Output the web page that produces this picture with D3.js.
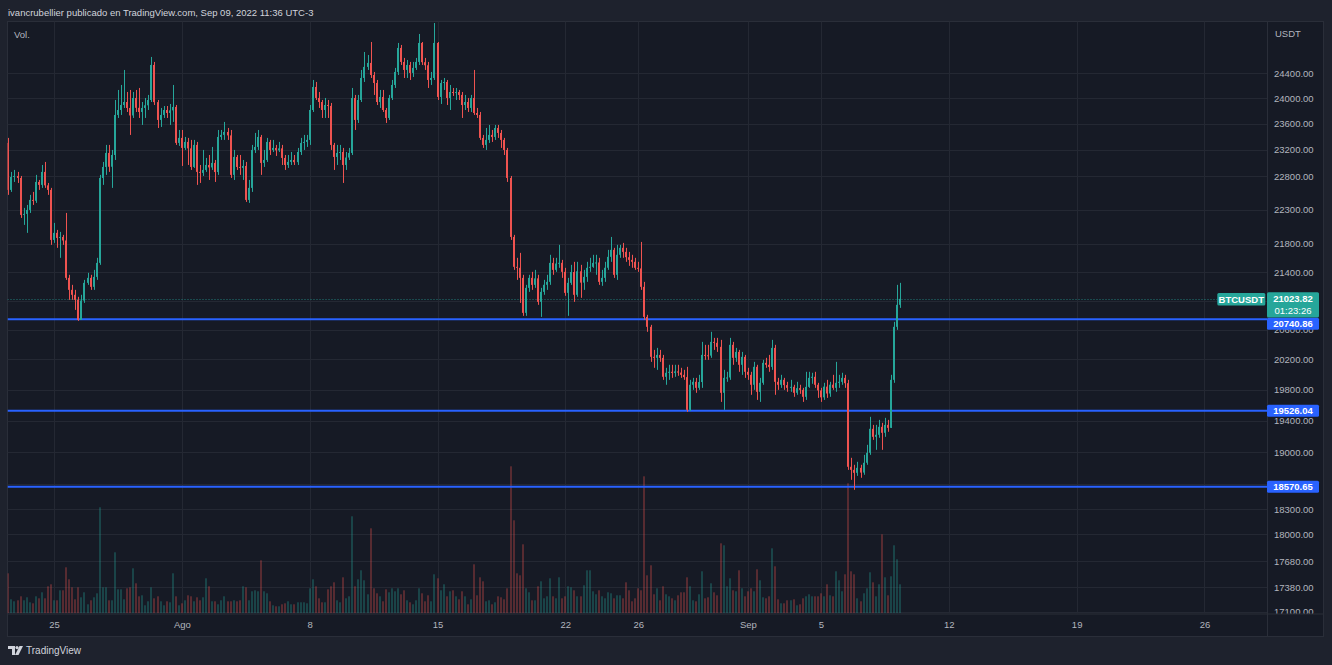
<!DOCTYPE html>
<html><head><meta charset="utf-8">
<script src="https://cdn.jsdelivr.net/npm/d3@7"></script>
<style>html,body{margin:0;padding:0;background:#1e222d;overflow:hidden}</style>
</head><body><svg id="c" width="1332" height="665"></svg>
<script>
// ---------- DATA (BTCUSDT, 4h candles) ----------
const firstBarTime = "2022-07-22T16:00:00Z";
const barHours = 4;
const opens = [
23304,22592,22786,22801,22771,22222,22237,22295,22443,22430,22711,22667,22862,22660,22592,21858,21960,21887,21901,21850,
21317,21149,21080,21010,20734,21000,21247,21317,21191,21331,21529,22771,22937,23150,22940,23119,23738,23816,23895,23942,
23848,23730,24006,23850,23785,23848,23890,23974,24535,23940,23660,23738,23816,23769,23810,23864,23304,23381,23227,23319,
23220,22937,23273,22862,22847,22892,22967,22930,22998,22860,23396,23427,23473,23420,22817,23089,22937,22922,22952,22443,
22622,23196,23242,23396,22998,23043,23319,23196,23227,23190,23220,23074,22967,23013,23043,23010,23165,23304,23319,23350,
23816,24181,24006,23942,23816,23895,23880,23273,23089,23150,23165,22967,23080,23150,24006,23660,23974,24325,24503,24568,
24373,24245,23942,24022,23816,23691,24006,24213,24422,24812,24584,24454,24535,24406,24487,24584,24894,24580,24530,24293,
24325,24894,24022,24245,24261,24006,24101,24085,24100,24054,23895,23942,23848,24006,23769,23738,23381,23273,23350,23427,
23396,23535,23458,23350,23196,22771,21901,21473,21459,21317,20830,21177,21317,21219,21310,20982,21121,21220,21261,21529,
21430,21520,21530,21402,21107,21247,21400,21080,21410,21250,21331,21459,21473,21529,21535,21261,21317,21460,21615,21715,
21360,21644,21744,21686,21610,21572,21544,21459,21450,21191,20775,20639,20234,20221,20260,20220,19969,20022,20035,20020,
20040,20025,19995,19965,19538,19864,19903,19824,19900,20260,20255,20250,20435,20422,20368,19759,19955,19960,20395,20221,
20300,20128,20234,20035,19995,19864,20101,19772,19890,20154,20128,20100,20354,19903,19864,19929,19860,19824,19837,19759,
19820,19798,19707,19837,19955,19969,19864,19790,19700,19840,19750,19865,19824,19890,19903,19955,19885,18817,18779,18742,
18804,18745,18867,18992,19295,19193,19219,19320,19244,19345,19307,19929,20639,20941];
const highs = [
23381,22862,22892,22862,22801,22325,22369,22518,22562,22817,22741,22967,23013,22696,22622,22105,22003,21974,21931,22251,
21360,21219,21149,21052,21080,21289,21388,21360,21430,21601,22817,23013,23273,23273,23196,23974,24133,24213,24454,24101,
24133,24101,24133,24165,23942,24006,24054,24665,24584,23974,23848,23879,23879,23911,24213,23895,23504,23504,23396,23381,
23350,23350,23319,22967,23196,23074,23119,23242,23043,23504,23504,23629,23535,23504,23196,23119,23119,23043,23013,22741,
23273,23458,23504,23427,23196,23381,23350,23350,23273,23319,23273,23119,23119,23165,23119,23227,23381,23427,23427,23895,
24293,24261,24101,23974,24006,23974,23927,23304,23273,23273,23227,23165,23227,24165,24054,24054,24454,24746,24697,24910,
24422,24293,24133,24133,23848,24054,24293,24487,24894,24861,24649,24616,24584,24584,24649,25042,24910,24649,24584,24422,
25224,24910,24293,24325,24293,24213,24165,24165,24133,24101,24054,24006,24054,24454,23848,23785,23427,23535,23582,23504,
23582,23582,23504,23381,23227,22801,21931,21601,21672,21360,21219,21360,21402,21430,21360,21177,21289,21360,21644,21601,
21601,21787,21572,21459,21317,21501,21544,21544,21501,21430,21544,21601,21644,21644,21601,21430,21544,21715,21901,21744,
21787,21787,21815,21744,21686,21644,21601,21544,21829,21261,20803,20666,20327,20354,20327,20260,20088,20128,20128,20128,
20128,20088,20061,20101,19929,19955,19955,19995,20435,20395,20395,20571,20489,20489,20462,20061,20035,20489,20435,20354,
20327,20300,20260,20088,20035,20167,20128,19955,20194,20221,20260,20462,20395,19955,19995,19955,19903,19929,19864,19903,
19864,19824,20035,20035,20022,20035,19890,19824,19890,19929,19903,19995,20167,19995,20022,19995,19929,18929,18842,18879,
18842,18966,19092,19448,19345,19345,19409,19371,19435,19409,19995,20707,21219,21247];
const lows = [
22518,22562,22711,22696,22178,22076,21960,22251,22369,22399,22592,22622,22622,22518,21787,21815,21744,21601,21787,21289,
21010,21010,20871,20720,20734,20968,21219,21149,21149,21289,21501,22667,22817,22862,22622,23043,23691,23738,23848,23785,
23427,23691,23785,23691,23582,23691,23816,23942,23895,23535,23551,23691,23691,23582,23629,23273,23258,22952,23196,22967,
22892,22922,22667,22696,22801,22862,22741,22892,22711,22817,23350,23350,23350,22771,22741,22892,22817,22741,22413,22399,
22562,23150,23196,22817,22937,23013,23119,23165,23104,23165,22967,22892,22922,22967,22967,22967,23119,23196,23242,23273,
23785,23974,23848,23691,23691,23691,23196,22892,22967,23043,22696,22892,23043,23119,23504,23613,23942,24261,24454,24325,
24054,23895,23848,23785,23613,23660,23974,24165,24373,24535,24325,24325,24293,24341,24454,24535,24535,24454,24165,24213,
24293,23974,23911,24133,23895,23816,24038,23974,23974,23691,23816,23785,23785,23738,23691,23350,23227,23196,23304,23319,
23350,23381,23227,23119,22711,21858,21430,21289,20968,20789,20789,21121,21149,21177,20941,20775,21080,21149,21219,21360,
21402,21459,21317,21066,20789,21219,20982,21052,21038,21149,21261,21402,21459,21360,21219,21205,21261,21430,21544,21317,
21289,21601,21601,21544,21487,21459,21430,21402,21149,20734,20571,20167,20088,20061,20167,19929,19864,19929,19955,19969,
19982,19955,19929,19512,19525,19798,19759,19798,19824,20194,20194,20221,20327,20300,19641,19538,19903,19929,20128,20167,
20035,19995,19955,19929,19733,19798,19667,19641,19864,20088,20035,20061,19733,19798,19824,19798,19772,19772,19707,19733,
19746,19641,19667,19824,19877,19824,19693,19641,19667,19693,19707,19798,19772,19824,19864,19824,18779,18656,18533,18705,
18681,18718,18842,18966,19155,19029,19181,19029,19193,19257,19307,19890,20598,20899];
const closes = [
22592,22786,22801,22771,22222,22237,22295,22443,22430,22711,22667,22862,22660,22592,21858,21960,21887,21901,21850,21317,
21149,21080,21010,20734,21000,21247,21317,21191,21331,21529,22771,22937,23150,22940,23119,23738,23816,23895,23942,23848,
23730,24006,23850,23785,23848,23890,23974,24535,23940,23660,23738,23816,23769,23810,23864,23304,23381,23227,23319,23220,
22937,23273,22862,22847,22892,22967,22930,22998,22860,23396,23427,23473,23420,22817,23089,22937,22922,22952,22443,22622,
23196,23242,23396,22998,23043,23319,23196,23227,23190,23220,23074,22967,23013,23043,23010,23165,23304,23319,23350,23816,
24181,24006,23942,23816,23895,23880,23273,23089,23150,23165,22967,23080,23150,24006,23660,23974,24325,24503,24568,24373,
24245,23942,24022,23816,23691,24006,24213,24422,24812,24584,24454,24535,24406,24487,24584,24894,24580,24530,24293,24325,
24894,24022,24245,24261,24006,24101,24085,24100,24054,23895,23942,23848,24006,23769,23738,23381,23273,23350,23427,23396,
23535,23458,23350,23196,22771,21901,21473,21459,21317,20830,21177,21317,21219,21310,20982,21121,21220,21261,21529,21430,
21520,21530,21402,21107,21247,21400,21080,21410,21250,21331,21459,21473,21529,21535,21261,21317,21460,21615,21715,21360,
21644,21744,21686,21610,21572,21544,21459,21450,21191,20775,20639,20234,20221,20260,20220,19969,20022,20035,20020,20040,
20025,19995,19965,19538,19864,19903,19824,19900,20260,20255,20250,20435,20422,20368,19759,19955,19960,20395,20221,20300,
20128,20234,20035,19995,19864,20101,19772,19890,20154,20128,20100,20354,19903,19864,19929,19860,19824,19837,19759,19820,
19798,19707,19837,19955,19969,19864,19790,19700,19840,19750,19865,19824,19890,19903,19955,19885,18817,18779,18742,18804,
18745,18867,18992,19295,19193,19219,19320,19244,19345,19307,19929,20639,20941,21023.82];
// volume, thousands of BTC
const volumes = [
40,14,12,13,17,13,16,11,10,17,15,21,15,27,29,13,13,23,23,46,
34,26,14,26,16,21,9,13,16,20,106,26,26,13,13,61,24,24,14,25,
26,45,30,17,18,8,12,26,15,17,12,8,12,11,40,17,8,10,13,18,
17,12,16,13,16,35,27,12,12,9,13,17,12,12,13,12,13,27,26,13,
22,23,22,53,22,20,12,8,7,7,9,10,12,9,9,11,11,11,10,25,
34,27,15,11,11,24,27,31,13,11,36,15,17,97,27,34,43,33,19,85,
25,20,17,12,24,21,25,22,25,19,23,13,11,9,13,25,20,12,18,12,
39,35,23,29,17,22,23,17,14,22,17,9,14,49,18,36,32,12,13,9,
11,17,16,14,25,147,93,40,38,69,25,21,13,13,27,32,15,17,35,17,
15,36,15,17,27,26,23,17,17,28,43,43,22,19,23,17,15,21,20,15,
18,18,15,31,23,12,15,25,23,137,38,48,19,25,13,27,19,17,15,13,
18,21,21,36,27,13,12,19,42,15,16,30,21,18,70,68,27,35,23,22,
43,25,17,22,25,22,44,33,16,15,17,65,47,14,10,10,13,13,14,8,
9,15,17,19,17,17,17,20,17,29,18,17,42,33,22,39,130,42,39,15,
12,20,25,41,31,17,29,79,36,18,37,68,54,29];
const priceTicks = [24400,24000,23600,23200,22800,22300,21800,21400,21000,20600,20200,19800,19400,19000,18600,18300,18000,17680,17380,17100];
const timeTickDates = ["2022-07-25","2022-08-01","2022-08-08","2022-08-15","2022-08-22","2022-08-26","2022-09-01","2022-09-05","2022-09-12","2022-09-19","2022-09-26"];
const timeTickLabels = ["25","Ago","8","15","22","26","Sep","5","12","19","26"];
const levelPrices = [20740.86, 19526.04, 18570.65];
const lastPrice = 21023.82;
const symbolName = "BTCUSDT";
const countdown = "01:23:26";
const headerText = "ivancrubellier publicado en TradingView.com, Sep 09, 2022 11:36 UTC-3";

// ---------- LAYOUT ----------
const W = 1332, H = 665;
const paneL = 7.5, paneT = 21.5, plotR = 1267, plotB = 613.5, paneR = 1323.5, paneB = 636.5;
const UP = "#26a69a", DOWN = "#ef5350", BLUE = "#2962ff";
const FONT = "'Liberation Sans', Arial, sans-serif";
const TXT = "#b2b5be";

const svg = d3.select("#c");
const defs = svg.append("defs");
defs.append("clipPath").attr("id","plot").append("rect")
  .attr("x",paneL).attr("y",paneT).attr("width",plotR-paneL).attr("height",plotB-paneT);
defs.append("clipPath").attr("id","yax").append("rect")
  .attr("x",plotR).attr("y",paneT).attr("width",paneR-plotR).attr("height",plotB-paneT);

svg.append("rect").attr("width",W).attr("height",H).attr("fill","#1e222d");
svg.append("rect").attr("x",paneL).attr("y",paneT).attr("width",paneR-paneL).attr("height",paneB-paneT)
  .attr("fill","#161a25").attr("stroke","#2a2e39").attr("stroke-width",1);

// scales
const t0 = Date.parse(firstBarTime);
const barDate = i => new Date(t0 + i*barHours*3600e3);
const x = d3.scaleUtc()
  .domain([new Date("2022-08-15T04:00:00Z"), new Date("2022-09-12T04:00:00Z")])
  .range([437.5, 948.8]);
const y = d3.scaleLog().domain([17100, 24400]).range([611.7, 73.3]);
const yv = d3.scaleLinear().domain([0, 200]).range([613.3, 413.3]);
const tickDate = s => new Date(s + "T04:00:00Z");

const candles = closes.map((c,i) => ({
  t: barDate(i), o: opens[i], h: Math.max(highs[i], opens[i], c), l: Math.min(lows[i], opens[i], c), c, v: volumes[i]
}));

const plot = svg.append("g").attr("clip-path","url(#plot)");
// grid
plot.append("g").selectAll("line").data(timeTickDates).join("line")
  .attr("x1", d => Math.round(x(tickDate(d)))+0.5).attr("x2", d => Math.round(x(tickDate(d)))+0.5)
  .attr("y1", paneT).attr("y2", plotB).attr("stroke","#242833").attr("stroke-width",1);
plot.append("g").selectAll("line").data(priceTicks).join("line")
  .attr("y1", d => Math.round(y(d))+0.5).attr("y2", d => Math.round(y(d))+0.5)
  .attr("x1", paneL).attr("x2", plotR).attr("stroke","#242833").attr("stroke-width",1);

// volume
plot.append("g").selectAll("rect").data(candles).join("rect")
  .attr("x", d => Math.round(x(d.t)) - 1).attr("width", 2)
  .attr("y", d => yv(d.v)).attr("height", d => yv(0) - yv(d.v))
  .attr("fill", d => d.c >= d.o ? UP : DOWN).attr("fill-opacity", 0.3);

// level lines
plot.append("g").selectAll("line").data(levelPrices).join("line")
  .attr("x1", paneL).attr("x2", plotR).attr("y1", d => y(d)).attr("y2", d => y(d))
  .attr("stroke", BLUE).attr("stroke-width", 2);

// last price dotted line
plot.append("line").attr("x1", paneL).attr("x2", 1217).attr("y1", Math.round(y(lastPrice))+0.5).attr("y2", Math.round(y(lastPrice))+0.5)
  .attr("stroke", UP).attr("stroke-opacity",0.7).attr("stroke-dasharray","1,2");

// candles
const cg = plot.append("g").selectAll("g").data(candles).join("g")
  .attr("fill", d => d.c >= d.o ? UP : DOWN);
cg.append("rect").attr("x", d => Math.round(x(d.t))).attr("width", 1)
  .attr("y", d => y(d.h)).attr("height", d => Math.max(1, y(d.l) - y(d.h)));
cg.append("rect").attr("x", d => Math.round(x(d.t)) - 1).attr("width", 2)
  .attr("y", d => y(Math.max(d.o, d.c))).attr("height", d => Math.max(1, Math.abs(y(d.o) - y(d.c))));

// separators
svg.append("line").attr("x1", plotR+0.5).attr("x2", plotR+0.5).attr("y1", paneT).attr("y2", paneB).attr("stroke","#2a2e39");
svg.append("line").attr("x1", paneL).attr("x2", paneR).attr("y1", plotB+0.5).attr("y2", plotB+0.5).attr("stroke","#2a2e39");

// label boxes geometry (price scale)
const lastY = y(lastPrice);
const lastBoxTop = lastY - 6.7, lastBoxBot = lastY + 18.7;
const levelBoxes = levelPrices.map(p => {
  let cy = y(p);
  if (cy - 6 < lastBoxBot && cy + 6 > lastBoxTop) cy = lastBoxBot + 6.3;
  return {p, cy};
});
const boxes = [[lastBoxTop, lastBoxBot]].concat(levelBoxes.map(b => [b.cy-6, b.cy+6]));
// a tick label is hidden when it sits entirely under one of the boxes
const hiddenTick = v => boxes.some(([a,b]) => y(v) - 3.5 >= a - 1 && y(v) + 3.5 <= b + 1);

// price axis
const gyWrap = svg.append("g").attr("clip-path","url(#yax)");
const gy = gyWrap.append("g").attr("transform", `translate(${plotR},0)`)
  .call(d3.axisRight(y).tickValues(priceTicks.filter(v => !hiddenTick(v))).tickFormat(d => d.toFixed(2)).tickSize(0).tickPadding(7));
gy.select(".domain").remove();
gy.selectAll("text").attr("fill", TXT).style("font-family", FONT).style("font-size","9.5px");

// time axis
const gx = svg.append("g").attr("transform", `translate(0,${plotB})`)
  .call(d3.axisBottom(x).tickValues(timeTickDates.map(tickDate)).tickFormat((d,i) => timeTickLabels[i]).tickSize(0).tickPadding(8));
gx.select(".domain").remove();
gx.selectAll("text").attr("fill", TXT).style("font-family", FONT).style("font-size","9.5px");

// level labels
const lvl = svg.append("g");
levelBoxes.forEach(({p, cy}) => {
  lvl.append("rect").attr("x", plotR).attr("y", cy-6).attr("width", 52).attr("height", 12).attr("rx",1.5).attr("fill", BLUE);
  lvl.append("text").attr("x", plotR+26).attr("y", cy).attr("text-anchor","middle").attr("dominant-baseline","central")
    .attr("fill","#fff").style("font-family",FONT).style("font-size","9.5px").style("font-weight","bold").text(p.toFixed(2));
});
// last price label
lvl.append("rect").attr("x", plotR).attr("y", lastBoxTop).attr("width", 52).attr("height", lastBoxBot-lastBoxTop).attr("rx",1.5).attr("fill", UP);
lvl.append("text").attr("x", plotR+26).attr("y", lastY).attr("text-anchor","middle").attr("dominant-baseline","central")
  .attr("fill","#fff").style("font-family",FONT).style("font-size","9.5px").style("font-weight","bold").text(lastPrice.toFixed(2));
lvl.append("text").attr("x", plotR+26).attr("y", lastY+11.5).attr("text-anchor","middle").attr("dominant-baseline","central")
  .attr("fill","#fff").style("font-family",FONT).style("font-size","9.5px").text(countdown);
lvl.append("rect").attr("x", 1217.3).attr("y", lastY-5.8).attr("width", 48).attr("height", 12.4).attr("rx",1.5).attr("fill", UP);
lvl.append("text").attr("x", 1241.3).attr("y", lastY+0.4).attr("text-anchor","middle").attr("dominant-baseline","central")
  .attr("fill","#fff").style("font-family",FONT).style("font-size","9.5px").style("font-weight","bold").text(symbolName);

// texts
svg.append("text").attr("x", 8).attr("y", 12).attr("dominant-baseline","central").attr("fill","#d1d4dc")
  .style("font-family",FONT).style("font-size","9.5px").text(headerText);
svg.append("text").attr("x", 14).attr("y", 34).attr("dominant-baseline","central").attr("fill",TXT)
  .style("font-family",FONT).style("font-size","9.5px").text("Vol.");
svg.append("text").attr("x", 1275).attr("y", 33).attr("dominant-baseline","central").attr("fill",TXT)
  .style("font-family",FONT).style("font-size","9.5px").text("USDT");

// footer logo
const logo = svg.append("g").attr("transform","translate(8,645)").attr("fill","#d1d4dc");
logo.append("path").attr("d","M0 1 H7 V10 H4 V4 H0 Z");
logo.append("circle").attr("cx",9).attr("cy",2.6).attr("r",1.6);
logo.append("path").attr("d","M11.5 1 H15 L10.5 10 H7 Z");
svg.append("text").attr("x", 26).attr("y", 650.5).attr("dominant-baseline","central").attr("fill","#d1d4dc")
  .style("font-family",FONT).style("font-size","10px").text("TradingView");
</script></body></html>
